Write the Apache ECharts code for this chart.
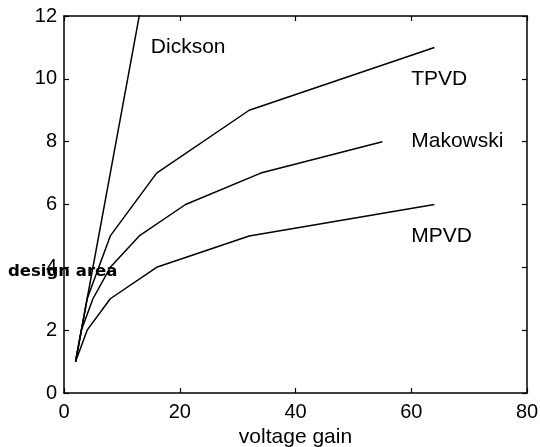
<!DOCTYPE html>
<html>
<head>
<meta charset="utf-8">
<style>
  html, body { margin: 0; padding: 0; background: #fff; }
  #chart { width: 540px; height: 447px; }
</style>
<script src="https://cdn.jsdelivr.net/npm/echarts@6/dist/echarts.min.js"></script>
</head>
<body>
<div id="chart"></div>
<script>
// design area vs voltage gain
var dickson = [[2, 1], [4, 3], [8, 7], [16, 15]];
var tpvd = [[2, 1], [4, 3], [8, 5], [16, 7], [32, 9], [64, 11]];
var makowski = [[2, 1], [3, 2], [5, 3], [8, 4], [13, 5], [21, 6], [34, 7], [55, 8]];
var mpvd = [[2, 1], [4, 2], [8, 3], [16, 4], [32, 5], [64, 6]];

// curve names placed as text in data coordinates
var curveLabels = [[15, 11, 'Dickson'], [60, 10, 'TPVD'], [60, 8, 'Makowski'], [60, 5, 'MPVD']];

var xTicks = { min: 0, max: 80, interval: 20 };
var yTicks = { min: 0, max: 12, interval: 2 };

var font = '"Liberation Sans", Arial, Helvetica, sans-serif';

var chart = echarts.init(document.getElementById('chart'));

function curve(name, data) {
	return {
		name: name,
		type: 'line',
		data: data,
		symbol: 'none',
		clip: true,
		silent: true,
		lineStyle: { color: '#000', width: 1.5 }
	};
}

var axisLine = { show: true, onZero: false, lineStyle: { color: '#000', width: 1.5 } };
var axisTick = { show: true, inside: true, length: 5, lineStyle: { color: '#000', width: 1.2 } };
var tickLabel = { color: '#000', fontFamily: font, fontSize: 20 };

var option = {
	animation: false,
	backgroundColor: '#fff',
	grid: { left: 64, right: 13, top: 16, bottom: 54, show: false, outerBoundsMode: 'none', containLabel: false },
	xAxis: [
		{
			type: 'value', position: 'bottom',
			min: xTicks.min, max: xTicks.max, interval: xTicks.interval,
			axisLine: axisLine, axisTick: axisTick,
			axisLabel: Object.assign({ margin: 9 }, tickLabel),
			splitLine: { show: false },
			name: 'voltage gain', nameLocation: 'middle', nameGap: 28,
			nameTextStyle: { color: '#000', fontFamily: font, fontSize: 21 }
		},
		{
			type: 'value', position: 'top',
			min: xTicks.min, max: xTicks.max, interval: xTicks.interval,
			axisLine: axisLine, axisTick: axisTick,
			axisLabel: { show: false }, splitLine: { show: false }
		}
	],
	yAxis: [
		{
			type: 'value', position: 'left',
			min: yTicks.min, max: yTicks.max, interval: yTicks.interval,
			axisLine: axisLine, axisTick: axisTick,
			axisLabel: Object.assign({ margin: 7 }, tickLabel),
			splitLine: { show: false }
		},
		{
			type: 'value', position: 'right',
			min: yTicks.min, max: yTicks.max, interval: yTicks.interval,
			axisLine: axisLine, axisTick: axisTick,
			axisLabel: { show: false }, splitLine: { show: false }
		}
	],
	graphic: [
		{
			type: 'text', left: 8, top: 263,
			style: {
				text: 'design area', fill: '#000',
				font: 'bold 16.5px "DejaVu Sans", sans-serif'
			}
		}
	],
	series: [
		curve('Dickson', dickson),
		curve('TPVD', tpvd),
		curve('Makowski', makowski),
		curve('MPVD', mpvd),
		{
			type: 'scatter',
			data: curveLabels,
			symbolSize: 0,
			silent: true,
			itemStyle: { color: '#000', opacity: 1 },
			label: {
				show: true, position: 'right', distance: 0,
				formatter: function (p) { return p.data[2]; },
				color: '#000', opacity: 1, fontFamily: font, fontSize: 21
			}
		}
	]
};

chart.setOption(option);
</script>
</body>
</html>
